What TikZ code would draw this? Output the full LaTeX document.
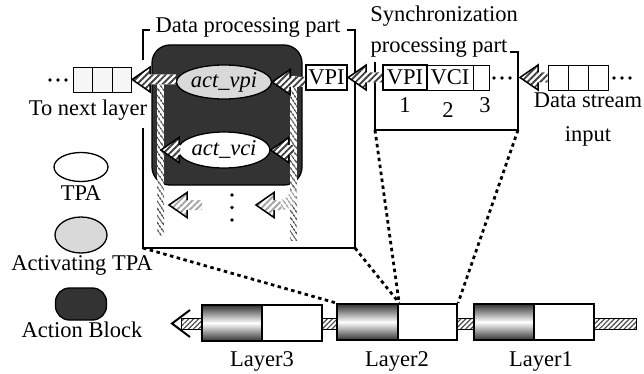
\documentclass[tikz,border=0pt]{standalone}
\usepackage{fontspec}
\setmainfont{Liberation Serif}
\usetikzlibrary{calc,patterns.meta,shapes.geometric}
% hatched fat arrow pointing left: tip, then tail (kept on the tip's height);
% the optional argument restyles the striped fill
\newcommand\fatarrow[3][]{%
  \path[hatch,#1] let \p1=#2, \p2=#3 in
    (\x1,\y1) -- ({\x1+18pt},{\y1+12.5pt}) -- ({\x1+18pt},{\y1+5pt})
    -- ({\x2},{\y1+5pt}) -- ({\x2},{\y1-5pt}) -- ({\x1+18pt},{\y1-5pt})
    -- ({\x1+18pt},{\y1-12.5pt}) -- cycle;
  \draw[headline] let \p1=#2 in
    ({\x1+18pt},{\y1+5pt}) -- ({\x1+18pt},{\y1+12.5pt}) -- (\x1,\y1)
    -- ({\x1+18pt},{\y1-12.5pt}) -- ({\x1+18pt},{\y1-5pt});}
\begin{document}
\begin{tikzpicture}[x=1pt,y=-1pt,
  font=\fontsize{22.5}{26}\selectfont,
  lbl/.style={inner sep=0pt, anchor=base},
  bracket/.style={line width=2.6pt},
  hatch/.style={preaction={fill=white},
     pattern={Lines[angle=45,distance=4.5pt,line width=1.9pt]}, pattern color=black!75},
  headline/.style={draw=black, line width=1.5pt, line join=miter},
  rope/.style={preaction={fill=white},
     pattern={Lines[angle=-55,distance=4pt,line width=1.7pt]}, pattern color=black!65},
  cell/.style={draw, line width=0.8pt, minimum height=25pt, inner sep=0pt, fill=white},
  boldcell/.style={draw, line width=2.4pt, minimum height=25pt, inner sep=0pt, fill=white},
  tpa/.style={ellipse, draw, line width=1.3pt, inner sep=0pt},
  abl/.style={draw, line width=1.3pt, fill=black!80, inner sep=0pt},
  darkpart/.style={draw, line width=2.2pt, minimum height=36pt, minimum width=60pt,
     inner sep=0pt, top color=black!80, bottom color=black!80, middle color=white},
  whitepart/.style={draw, line width=2.2pt, minimum height=36pt, minimum width=60pt,
     inner sep=0pt, fill=white},
  dotline/.style={line width=2.8pt, dash pattern=on 3.5pt off 3.5pt},
  bar/.style={draw, line width=0.8pt, preaction={fill=white},
     pattern={Lines[angle=45,distance=3.5pt,line width=1.2pt]}, pattern color=black!70},
  faded/.style={pattern color=black!35},
]
\useasboundingbox (0,0) rectangle (644,374);
\fill[white] (0,0) rectangle (644,374);

% ---------- legend ----------
\node[tpa, fill=white, minimum width=54pt, minimum height=29pt] (lgTPA) at (81,167) {};
\node[lbl] (lgTPAt) at (81,200) {TPA};
\node[tpa, fill=black!15, minimum width=52pt, minimum height=36pt] (lgAct) at (81,235) {};
\node[lbl] (lgActt) at (82,270) {Activating TPA};
\node[abl, rounded corners=14pt, minimum width=51pt, minimum height=32pt] (lgAB) at (81,304) {};
\node[lbl] (lgABt) at (82,337) {Action Block};

% ---------- data processing part ----------
\coordinate (dpBL) at (143,248);
\coordinate (dpBR) at (355,248);
\draw[bracket] (143,60) -- (143,30) -- (150,30);
\draw[bracket] (143,128) -- (dpBL) -- (dpBR) -- (355,30) -- (347,30);
\node[lbl] (dpT) at (248,33) {Data processing part};

\node[abl, rounded corners=18pt, minimum width=150pt, minimum height=140pt] (ab) at (227,115) {};

% signal ropes on both sides of the action block
\path[rope] (157,76) rectangle (164,235);
\path[rope] (290,76) rectangle (297,240);

\node[tpa, fill=black!15, minimum width=95pt, minimum height=34pt] (vpiT) at (224,82) {\itshape act\_vpi};
\node[tpa, fill=white, minimum width=92pt, minimum height=36pt] (vciT) at (224,150) {\itshape act\_vci};

\node[boldcell, minimum width=41pt] (dVPI) at (326.5,77.5) {VPI};

% continuation marks
\fill (232,195) circle (1.9pt) (232,207.5) circle (1.9pt) (232,220) circle (1.9pt);

% ---------- output queue ----------
\node[cell, fill=black!3, minimum width=19.5pt] (l1) at (83,79.5) {};
\node[cell, fill=black!3, minimum width=19.5pt] (l2) at (102.5,79.5) {};
\node[cell, fill=black!3, minimum width=19.5pt] (l3) at (122,79.5) {};
\fill (50,80) circle (1.8pt) (58,80) circle (1.8pt) (66,80) circle (1.8pt);
\node[lbl] (nextT) at (88,116) {To next layer};

% ---------- synchronization part ----------
\coordinate (sBL) at (375,130);
\coordinate (sBR) at (518,130);
\coordinate (sIn) at (520,77.5);
\draw[bracket] (375,62) -- (sBL) -- (sBR) -- (518,52) -- (510,52);
\node[lbl] (syT1) at (444,22) {Synchronization};
\node[lbl] (syT2) at (439,53) {processing part};
\node[cell, minimum width=46pt] (sVCI) at (450,77.5) {VCI};
\node[cell, minimum width=16pt] (s3) at (481,77.5) {};
\node[boldcell, minimum width=44pt] (sVPI) at (405,77.5) {VPI};
\node[lbl] (n1) at (405,113) {1};
\node[lbl] (n2) at (448,118) {2};
\node[lbl] (n3) at (485,113) {3};
\fill (494,78) circle (1.8pt) (502,78) circle (1.8pt) (510,78) circle (1.8pt);

% ---------- input queue ----------
\node[cell, minimum width=20pt] (q1) at (558,77.5) {};
\node[cell, minimum width=20pt] (q2) at (578,77.5) {};
\node[cell, minimum width=20pt] (q3) at (598,77.5) {};
\fill (614,78) circle (1.8pt) (622,78) circle (1.8pt) (630,78) circle (1.8pt);
\node[lbl] (dsT1) at (588,108) {Data stream};
\node[lbl] (dsT2) at (588,142) {input};

% ---------- hatched flow arrows ----------
\fatarrow{(sIn)}{(q1.west)}
\fatarrow{(dVPI.east)}{(sVPI.west)}
\fatarrow{(vpiT.east)}{(dVPI.west)}
\fatarrow{(l3.east)}{(vpiT.west)}
\fatarrow{(vciT.east)}{(294,150)}
\fatarrow{(161,150)}{($(vciT.west)+(3,0)$)}
\fatarrow[faded]{(169,205)}{(202,205)}
\fatarrow[faded]{(256,205)}{(282,205)}
\path[rope, pattern color=black!35] (280,200) to[out=0,in=-90] (290,190) -- (297,190)
  to[out=-90,in=0] (282,210) -- cycle;

% ---------- layer chain ----------
\path[bar] (181,318) rectangle (636,329);
\draw[line width=2pt] (190,310) -- (172,323.5) -- (190,337);
\node[darkpart] (L3a) at (232,323) {};
\node[whitepart] (L3b) at (292,323) {};
\node[darkpart, minimum width=61pt] (L2a) at (367.5,322) {};
\node[whitepart, minimum width=59pt] (L2b) at (427.5,322) {};
\node[darkpart] (L1a) at (504,322) {};
\node[whitepart] (L1b) at (564,322) {};
\node[lbl] (L3t) at (262,366) {Layer3};
\node[lbl] (L2t) at (397,366) {Layer2};
\node[lbl] (L1t) at (541,366) {Layer1};

% ---------- zoom lines to Layer2 ----------
\draw[dotline] (dpBL) -- (L2a.north west);
\draw[dotline] (dpBR) -- (L2a.north east);
\draw[dotline] (sBL) -- (L2a.north east);
\draw[dotline] (sBR) -- (L2b.north east);
\end{tikzpicture}
\end{document}
